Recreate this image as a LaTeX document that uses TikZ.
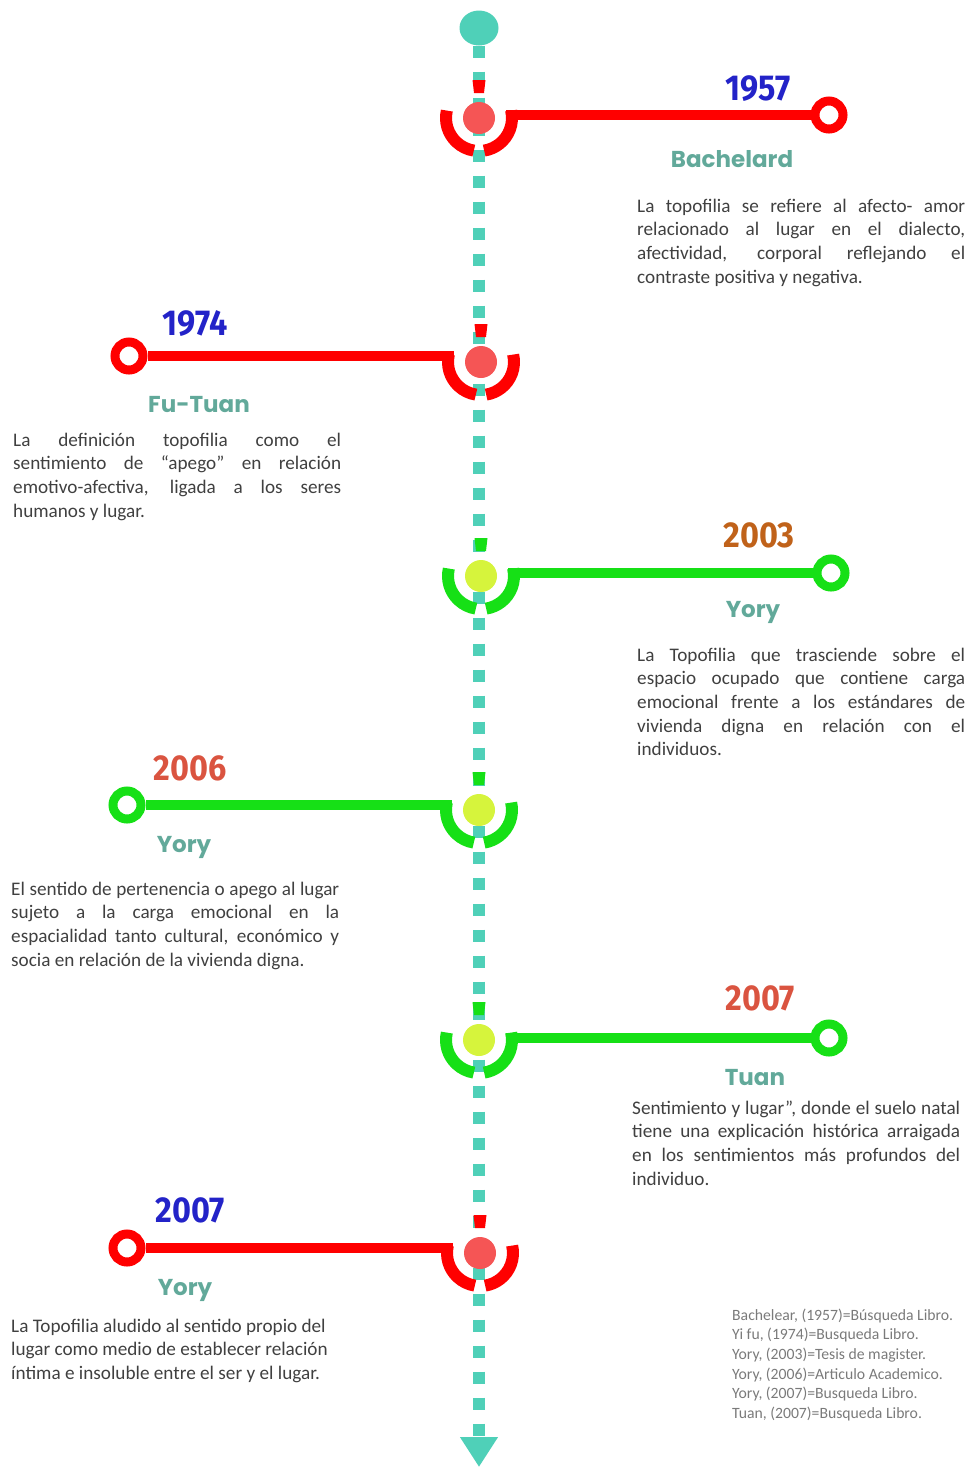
\documentclass[tikz,border=0pt]{standalone}
\usepackage{fontspec}
\setmainfont{Carlito}
\newfontfamily\yearfont[FakeStretch=0.9]{Fira Sans}
\newfontfamily\namefont{Poppins}
\usetikzlibrary{shapes.geometric,arrows.meta}
\definecolor{axisteal}{HTML}{4FD0B8}
\definecolor{linered}{HTML}{FF0000}
\definecolor{dotred}{HTML}{F55555}
\definecolor{linegreen}{HTML}{16E016}
\definecolor{dotyellow}{HTML}{D6F43C}
\definecolor{yearblue}{HTML}{2323C8}
\definecolor{yearbrown}{HTML}{C0621A}
\definecolor{yearorange}{HTML}{DA5440}
\definecolor{namecol}{HTML}{62A99A}
\definecolor{txtgray}{HTML}{404040}
\definecolor{refgray}{HTML}{7A7A7A}
\newlength\bw
\setlength\bw{328pt}
\newcommand\jl[1]{\makebox[\bw][s]{\rule{0pt}{14pt}#1}}
\begin{document}
\begin{tikzpicture}[x=1pt,y=1pt,
  axisline/.style={line width=12pt, draw=axisteal, dash pattern=on 12pt off 14pt},
  startdot/.style={ellipse, fill=axisteal, minimum width=39pt, minimum height=35pt, inner sep=0pt},
  msdot/.style={circle, minimum size=32pt, inner sep=0pt},
  arcseg/.style={line width=12pt},
  ringnode/.style={circle, minimum size=28pt, line width=9pt, fill=white, inner sep=0pt},
  branchline/.style={line width=10pt},
  yearlbl/.style={anchor=base, inner sep=0pt, font=\yearfont\fontsize{36}{36}\bfseries\selectfont},
  namelbl/.style={anchor=base, inner sep=0pt, text=namecol, font=\namefont\fontsize{23}{23}\bfseries\selectfont},
  bodytxt/.style={anchor=north west, inner sep=0pt, align=left, text=txtgray, font=\fontsize{19.2}{23.6}\selectfont},
  reftxt/.style={anchor=north west, inner sep=0pt, align=left, text=refgray, font=\fontsize{15.7}{19.6}\selectfont}]
\useasboundingbox (0,0) rectangle (971,-1468);

% axis
\node[startdot] (start) at (479,-28) {};
\coordinate (end) at (479,-1467);
\draw[axisline, -{Triangle[width=36pt,length=30pt]}] (start.south) -- (end);

% milestone 1 : 1957
\node[msdot, fill=dotred] (d1) at (479,-118) {};
\draw[arcseg, linered] (d1.center) ++(167:33) arc[start angle=167, end angle=261, radius=33];
\draw[arcseg, linered] (d1.center) ++(279:33) arc[start angle=279, end angle=373, radius=33];
\fill[linered] (d1.center) ++(-6.5,38) -- ++(13,0) -- ++(-1.5,-13) -- ++(-10,0) -- cycle;
\coordinate (c1) at (506,-115);
\node[ringnode, draw=linered] (r1) at (829,-115) {};
\draw[branchline, linered] (c1) -- (r1);
\node[yearlbl, text=yearblue] (y1) at (758,-100) {1957};
\node[namelbl] (n1) at (732,-167) {Bachelard};
\node[bodytxt] (t1) at (637,-198) {\jl{La topofilia se refiere al afecto- amor}\\
\jl{relacionado al lugar en el dialecto,}\\
\jl{afectividad, corporal reflejando el}\\
contraste positiva y negativa.};

% milestone 2 : 1974
\node[msdot, fill=dotred] (d2) at (481,-362) {};
\draw[arcseg, linered] (d2.center) ++(167:33) arc[start angle=167, end angle=261, radius=33];
\draw[arcseg, linered] (d2.center) ++(279:33) arc[start angle=279, end angle=373, radius=33];
\fill[linered] (d2.center) ++(-6.5,38) -- ++(13,0) -- ++(-1.5,-13) -- ++(-10,0) -- cycle;
\coordinate (c2) at (454,-356);
\node[ringnode, draw=linered] (r2) at (129,-356) {};
\draw[branchline, linered] (c2) -- (r2);
\node[yearlbl, text=yearblue] (y2) at (195,-335) {1974};
\node[namelbl] (n2) at (199,-412) {Fu-Tuan};
\node[bodytxt] (t2) at (13,-432) {\jl{La definición topofilia como el}\\
\jl{sentimiento de “apego” en relación}\\
\jl{emotivo-afectiva, ligada a los seres}\\
humanos y lugar.};

% milestone 3 : 2003
\node[msdot, fill=dotyellow] (d3) at (481,-576) {};
\draw[arcseg, linegreen] (d3.center) ++(167:33) arc[start angle=167, end angle=261, radius=33];
\draw[arcseg, linegreen] (d3.center) ++(279:33) arc[start angle=279, end angle=373, radius=33];
\fill[linegreen] (d3.center) ++(-6.5,38) -- ++(13,0) -- ++(-1.5,-13) -- ++(-10,0) -- cycle;
\coordinate (c3) at (508,-573);
\node[ringnode, draw=linegreen] (r3) at (831,-573) {};
\draw[branchline, linegreen] (c3) -- (r3);
\node[yearlbl, text=yearbrown] (y3) at (759,-547) {2003};
\node[namelbl] (n3) at (753,-617) {Yory};
\node[bodytxt] (t3) at (637,-647) {\jl{La Topofilia que trasciende sobre el}\\
\jl{espacio ocupado que contiene carga}\\
\jl{emocional frente a los estándares de}\\
\jl{vivienda digna en relación con el}\\
individuos.};

% milestone 4 : 2006
\node[msdot, fill=dotyellow] (d4) at (479,-810) {};
\draw[arcseg, linegreen] (d4.center) ++(167:33) arc[start angle=167, end angle=261, radius=33];
\draw[arcseg, linegreen] (d4.center) ++(279:33) arc[start angle=279, end angle=373, radius=33];
\fill[linegreen] (d4.center) ++(-6.5,38) -- ++(13,0) -- ++(-1.5,-13) -- ++(-10,0) -- cycle;
\coordinate (c4) at (452,-805);
\node[ringnode, draw=linegreen] (r4) at (127,-805) {};
\draw[branchline, linegreen] (c4) -- (r4);
\node[yearlbl, text=yearorange] (y4) at (190,-780) {2006};
\node[namelbl] (n4) at (184,-852) {Yory};
\node[bodytxt] (t4) at (11,-881) {\jl{El sentido de pertenencia o apego al lugar}\\
\jl{sujeto a la carga emocional en la}\\
\jl{espacialidad tanto cultural, económico y}\\
socia en relación de la vivienda digna.};

% milestone 5 : 2007 Tuan
\node[msdot, fill=dotyellow] (d5) at (479,-1040) {};
\draw[arcseg, linegreen] (d5.center) ++(167:33) arc[start angle=167, end angle=261, radius=33];
\draw[arcseg, linegreen] (d5.center) ++(279:33) arc[start angle=279, end angle=373, radius=33];
\fill[linegreen] (d5.center) ++(-6.5,38) -- ++(13,0) -- ++(-1.5,-13) -- ++(-10,0) -- cycle;
\coordinate (c5) at (506,-1038);
\node[ringnode, draw=linegreen] (r5) at (829,-1038) {};
\draw[branchline, linegreen] (c5) -- (r5);
\node[yearlbl, text=yearorange] (y5) at (760,-1010) {2007};
\node[namelbl] (n5) at (755,-1085) {Tuan};
\node[bodytxt] (t5) at (632,-1100) {\jl{Sentimiento y lugar”, donde el suelo natal}\\
\jl{tiene una explicación histórica arraigada}\\
\jl{en los sentimientos más profundos del}\\
individuo.};

% milestone 6 : 2007 Yory
\node[msdot, fill=dotred] (d6) at (480,-1253) {};
\draw[arcseg, linered] (d6.center) ++(167:33) arc[start angle=167, end angle=261, radius=33];
\draw[arcseg, linered] (d6.center) ++(279:33) arc[start angle=279, end angle=373, radius=33];
\fill[linered] (d6.center) ++(-6.5,38) -- ++(13,0) -- ++(-1.5,-13) -- ++(-10,0) -- cycle;
\coordinate (c6) at (453,-1248);
\node[ringnode, draw=linered] (r6) at (127,-1248) {};
\draw[branchline, linered] (c6) -- (r6);
\node[yearlbl, text=yearblue] (y6) at (190,-1222) {2007};
\node[namelbl] (n6) at (185,-1295) {Yory};
\node[bodytxt] (t6) at (11,-1318) {\rule{0pt}{14pt}La Topofilia aludido al sentido propio del\\
lugar como medio de establecer relación\\
íntima e insoluble entre el ser y el lugar.};

% references
\node[reftxt] (refs) at (732,-1308) {\rule{0pt}{12pt}Bachelear, (1957)=Búsqueda Libro.\\
Yi fu, (1974)=Busqueda Libro.\\
Yory, (2003)=Tesis de magister.\\
Yory, (2006)=Articulo Academico.\\
Yory, (2007)=Busqueda Libro.\\
Tuan, (2007)=Busqueda Libro.};
\end{tikzpicture}
\end{document}
